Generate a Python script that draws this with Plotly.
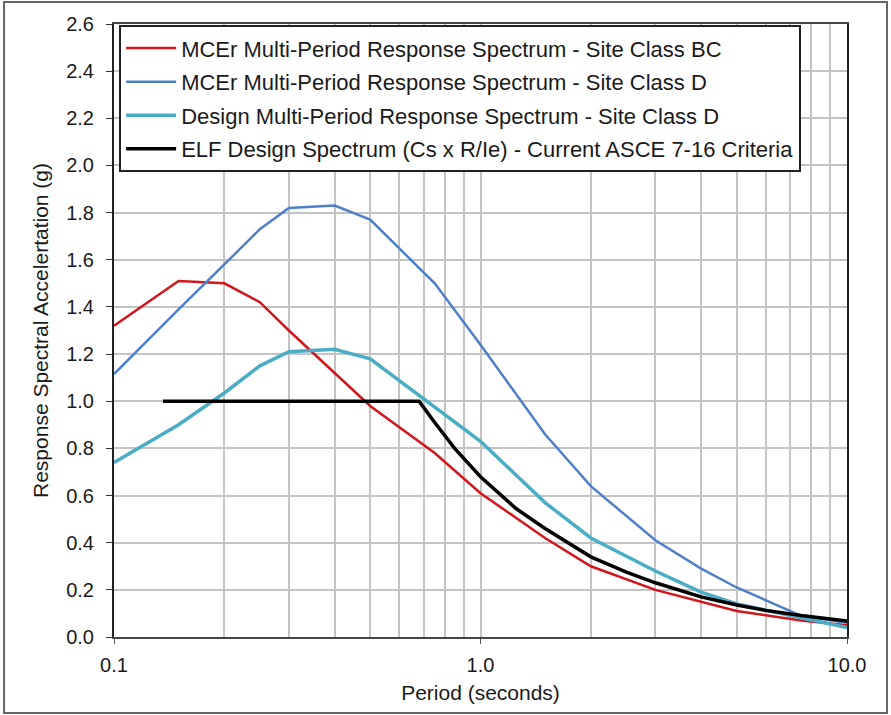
import plotly.graph_objects as go

periods = [0.1, 0.15, 0.2, 0.25, 0.3, 0.4, 0.5, 0.75, 1.0, 1.5, 2.0, 3.0, 4.0, 5.0, 7.5, 10.0]
mcer_bc = [1.32, 1.51, 1.50, 1.42, 1.30, 1.12, 0.98, 0.78, 0.61, 0.42, 0.30, 0.20, 0.15, 0.11, 0.07, 0.05]
mcer_d = [1.115, 1.39, 1.58, 1.73, 1.82, 1.83, 1.77, 1.50, 1.24, 0.86, 0.64, 0.41, 0.29, 0.21, 0.09, 0.06]
design_d = [0.74, 0.90, 1.035, 1.15, 1.21, 1.22, 1.18, 0.975, 0.83, 0.57, 0.42, 0.28, 0.19, 0.14, 0.08, 0.04]

elf_periods = [0.136, 0.68, 0.75, 0.85, 1.0, 1.25, 1.5, 2.0, 2.5, 3.0, 4.0, 5.0, 6.0, 7.5, 10.0]
elf_values = [1.0, 1.0, 0.91, 0.80, 0.68, 0.545, 0.46, 0.34, 0.275, 0.23, 0.17, 0.136, 0.113, 0.091, 0.068]

names = [
    "MCEr Multi-Period Response Spectrum - Site Class BC",
    "MCEr Multi-Period Response Spectrum - Site Class D",
    "Design Multi-Period Response Spectrum - Site Class D",
    "ELF Design Spectrum (Cs x R/Ie) - Current ASCE 7-16 Criteria",
]
x_ticks = [0.1, 1.0, 10.0]
x_tick_text = ["0.1", "1.0", "10.0"]
x_minor = [0.2, 0.3, 0.4, 0.5, 0.6, 0.7, 0.8, 0.9, 2, 3, 4, 5, 6, 7, 8, 9]

fig = go.Figure()
fig.add_trace(go.Scatter(x=periods, y=mcer_bc, mode="lines", name=names[0], legendgroup="a",
                         line=dict(color="#D2161E", width=2.5)))
fig.add_trace(go.Scatter(x=periods, y=mcer_d, mode="lines", name=names[1], legendgroup="b",
                         line=dict(color="#4F7FC8", width=2.5)))
fig.add_trace(go.Scatter(x=periods, y=design_d, mode="lines", name=names[2], legendgroup="c",
                         line=dict(color="#4BACC6", width=3.5)))
fig.add_trace(go.Scatter(x=elf_periods, y=elf_values, mode="lines", name=names[3], legendgroup="d",
                         line=dict(color="#000000", width=3.5)))

font_family = "Liberation Sans, Arial, sans-serif"
fig.update_layout(
    width=891, height=715,
    margin=dict(l=114, r=44, t=24, b=78),
    paper_bgcolor="white", plot_bgcolor="white",
    font=dict(family=font_family, size=20, color="#1a1a1a"),
    showlegend=True,
    legend=dict(x=0.007, y=0.998, xanchor="left", yanchor="top",
                bgcolor="white", bordercolor="#222222", borderwidth=2,
                font=dict(size=22, color="#1a1a1a"), itemwidth=50,
                tracegroupgap=2),
    xaxis=dict(type="log", range=[-1, 1], tickmode="array", tickvals=x_ticks,
               ticktext=x_tick_text, ticks="outside", ticklen=5, tickcolor="#555",
               ticklabelstandoff=4,
               showgrid=True, gridcolor="#c4c4c4", gridwidth=1.5,
               minor=dict(tickmode="array", tickvals=x_minor, showgrid=True,
                          gridcolor="#c4c4c4", gridwidth=1.5, ticks=""),
               showline=True, linecolor="#444444", linewidth=2, mirror=True,
               zeroline=False,
               title=dict(text="Period (seconds)", font=dict(size=21), standoff=10),
               tickfont=dict(size=20)),
    yaxis=dict(range=[0, 2.6], dtick=0.2, tick0=0, tickformat=".1f",
               ticks="outside", ticklen=6, tickcolor="#333",
               ticklabelstandoff=8,
               showgrid=True, gridcolor="#c4c4c4", gridwidth=1.5,
               showline=True, linecolor="#222222", linewidth=2, mirror=True,
               zeroline=False,
               title=dict(text="Response Spectral Accelertation (g)", font=dict(size=21), standoff=12),
               tickfont=dict(size=20)),
    shapes=[dict(type="rect", xref="paper", yref="paper",
                 x0=-0.150, x1=1.0546, y0=-0.124, y1=1.0359,
                 line=dict(color="#666666", width=2), layer="below")],
)

fig.write_html("out.html", config={"displayModeBar": False},
               post_script="document.body.style.margin='0';")
